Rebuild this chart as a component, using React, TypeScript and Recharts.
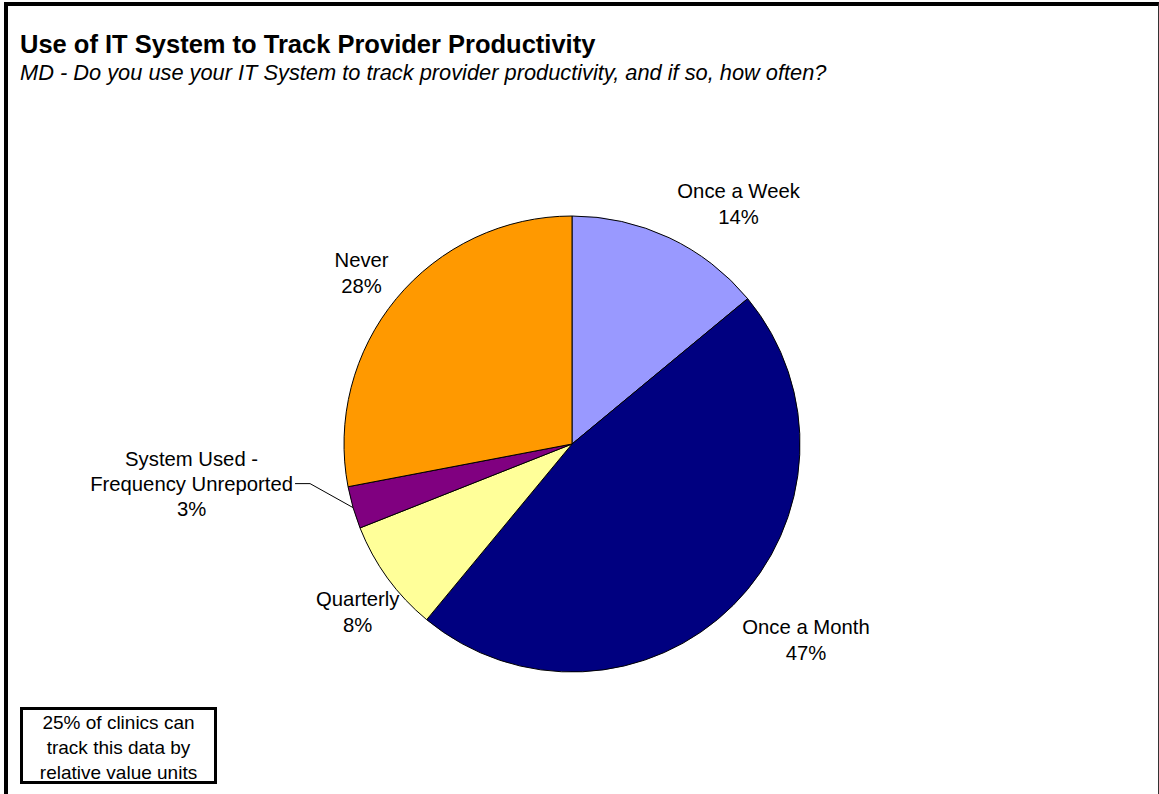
import { Cell, Pie, PieChart } from "recharts"

const categories = ["Once a Week", "Once a Month", "Quarterly", "System Used - Frequency Unreported", "Never"]
const shares = [14, 47, 8, 3, 28]
const colors = ["#9999FF", "#000080", "#FFFF99", "#800080", "#FF9900"]

// small hand nudges so the labels sit where Excel's "best fit" put them
const labelNudge = [
  [4, -4],
  [2, 8],
  [20, 8],
  [0, 0],
  [0, 2],
]

const FONT = "Arial, 'Liberation Sans', sans-serif"
const LABEL_FS = 20.3
const LINE_H = 26
const RAD = Math.PI / 180

const rows = categories.map((name, i) => ({ name, value: shares[i] }))

let ctx: CanvasRenderingContext2D | null = null
function textWidth(s: string) {
  if (!ctx) ctx = document.createElement("canvas").getContext("2d")
  if (!ctx) return s.length * LABEL_FS * 0.5
  ctx.font = `${LABEL_FS}px ${FONT}`
  return ctx.measureText(s).width
}

function renderLabel(p: any) {
  const { cx, cy, outerRadius, midAngle, index, name, value } = p
  const dx = Math.cos(-midAngle * RAD)
  const dy = Math.sin(-midAngle * RAD)
  const pct = `${value}%`

  if (index === 3) {
    // small slice: leader line out to the left
    const ex = cx + outerRadius * dx
    const ey = cy + outerRadius * dy
    const kx = ex - 43
    const ky = ey - 24
    const tx = kx - 15
    const lines = ["System Used -", "Frequency Unreported", pct]
    const w = textWidth(lines[1])
    const mx = tx - 2 - w / 2
    return (
      <g>
        <polyline points={`${ex},${ey} ${kx},${ky} ${tx},${ky}`} fill="none" stroke="#000" strokeWidth={1} />
        {lines.map((l, j) => (
          <text key={j} x={mx} y={ky + 7 + (j - 1) * 25} textAnchor="middle" fontSize={LABEL_FS} fontFamily={FONT} fill="#000">
            {l}
          </text>
        ))}
      </g>
    )
  }

  const lines = [name, pct]
  const w = Math.max(...lines.map(textWidth))
  const h = LINE_H + 15
  const r = outerRadius + 10
  const px = cx + r * dx
  const py = cy + r * dy
  const midX = (dx >= 0 ? px + w / 2 : px - w / 2) + labelNudge[index][0]
  const top = (dy < 0 ? py - h : py) + labelNudge[index][1]
  return (
    <g>
      {lines.map((l, j) => (
        <text key={j} x={midX} y={top + 14 + j * LINE_H} textAnchor="middle" fontSize={LABEL_FS} fontFamily={FONT} fill="#000">
          {l}
        </text>
      ))}
    </g>
  )
}

export default function App() {
  return (
    <div style={{ position: "absolute", left: 0, top: 0, width: 1159, height: 794, background: "#fff", overflow: "hidden", fontFamily: FONT }}>
      <div style={{ position: "absolute", left: 4, top: 2, width: 1155, height: 820, borderLeft: "4px solid #000", borderTop: "4px solid #000", borderRight: "1.5px solid #333", boxSizing: "border-box" }} />
      <div style={{ position: "absolute", left: 20, top: 30, fontSize: 25.5, fontWeight: "bold", whiteSpace: "nowrap" }}>
        Use of IT System to Track Provider Productivity
      </div>
      <div style={{ position: "absolute", left: 20, top: 60, fontSize: 21.8, fontStyle: "italic", whiteSpace: "nowrap" }}>
        MD - Do you use your IT System to track provider productivity, and if so, how often?
      </div>
      <div style={{ position: "absolute", left: 0, top: 0 }}>
        <PieChart width={1159} height={794} margin={{ top: 0, right: 0, bottom: 0, left: 0 }}>
          <Pie
            data={rows}
            dataKey="value"
            nameKey="name"
            cx={572}
            cy={444}
            outerRadius={228}
            startAngle={90}
            endAngle={-270}
            stroke="#000"
            strokeWidth={1}
            label={renderLabel}
            labelLine={false}
            isAnimationActive={false}
          >
            {rows.map((r, i) => (
              <Cell key={r.name} fill={colors[i]} />
            ))}
          </Pie>
        </PieChart>
      </div>
      <div
        style={{
          position: "absolute",
          left: 20,
          top: 707,
          width: 197,
          height: 77,
          border: "3px solid #000",
          boxSizing: "border-box",
          fontSize: 19,
          lineHeight: "25px",
          textAlign: "center",
          paddingTop: 0,
        }}
      >
        25% of clinics can
        <br />
        track this data by
        <br />
        relative value units
      </div>
    </div>
  )
}
